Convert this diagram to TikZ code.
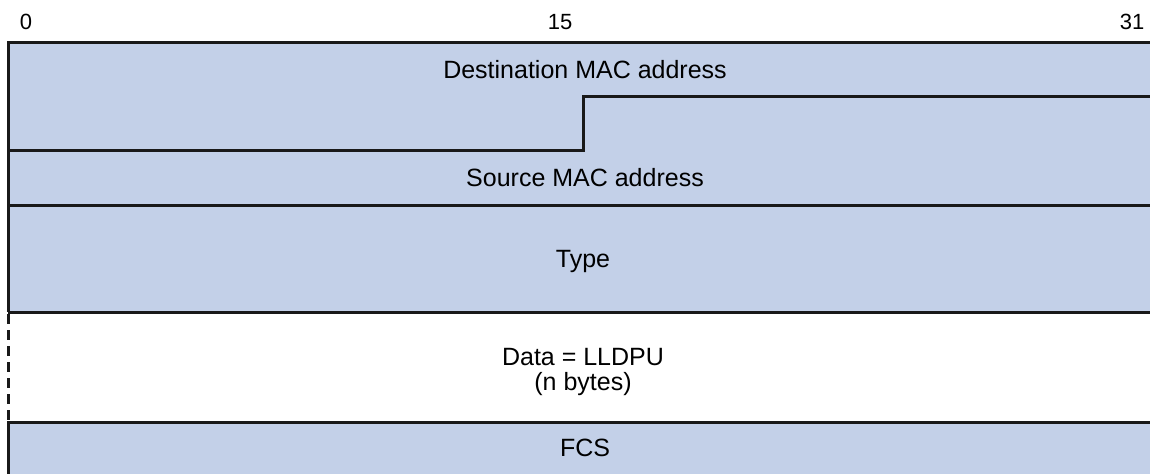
\documentclass[tikz,border=0pt]{standalone}
\usepackage{fontspec}
\setmainfont{Liberation Sans}
\usetikzlibrary{positioning}
\definecolor{fieldblue}{RGB}{195, 208, 232}

\begin{document}
\begin{tikzpicture}[
  x=1pt, y=-1pt,
  field/.style={fill=fieldblue},
  edge/.style={line width=3pt, black!90},
  label/.style={font=\fontsize{25}{27}\selectfont, inner sep=0pt, anchor=base},
  bitnum/.style={font=\fontsize{22}{24}\selectfont, inner sep=0pt, anchor=base}
]
\useasboundingbox (0,0) rectangle (1150,474);

% field backgrounds
\fill[field] (8,42) rectangle (1150,312);
\fill[field] (8,422) rectangle (1150,474);

% bit numbers
\node[bitnum] (b0) at (26,29) {0};
\node[bitnum] (b15) at (560,29) {15};
\node[bitnum] (b31) at (1132,29) {31};

% field labels
\node[label] (dst) at (585,78) {Destination MAC address};
\node[label] (src) at (585,186) {Source MAC address};
\node[label] (type) at (583,267) {Type};
\node[label] (data) at (583,365) {Data = LLDPU};
\node[label] (nbytes) at (583,390) {(n bytes)};
\node[label] (fcs) at (585,456) {FCS};

% boundaries
\draw[edge] (1150,42) -- (8,42) -- (8,312);
\draw[edge] (8,150) -- (583,150) -- (583,96) -- (1150,96);
\draw[edge] (8,205) -- (1150,205);
\draw[edge] (8,312) -- (1150,312);
\draw[edge, dash pattern=on 10pt off 6pt] (8,314) -- (8,422);
\draw[edge] (1150,422) -- (8,422) -- (8,474);
\end{tikzpicture}
\end{document}
